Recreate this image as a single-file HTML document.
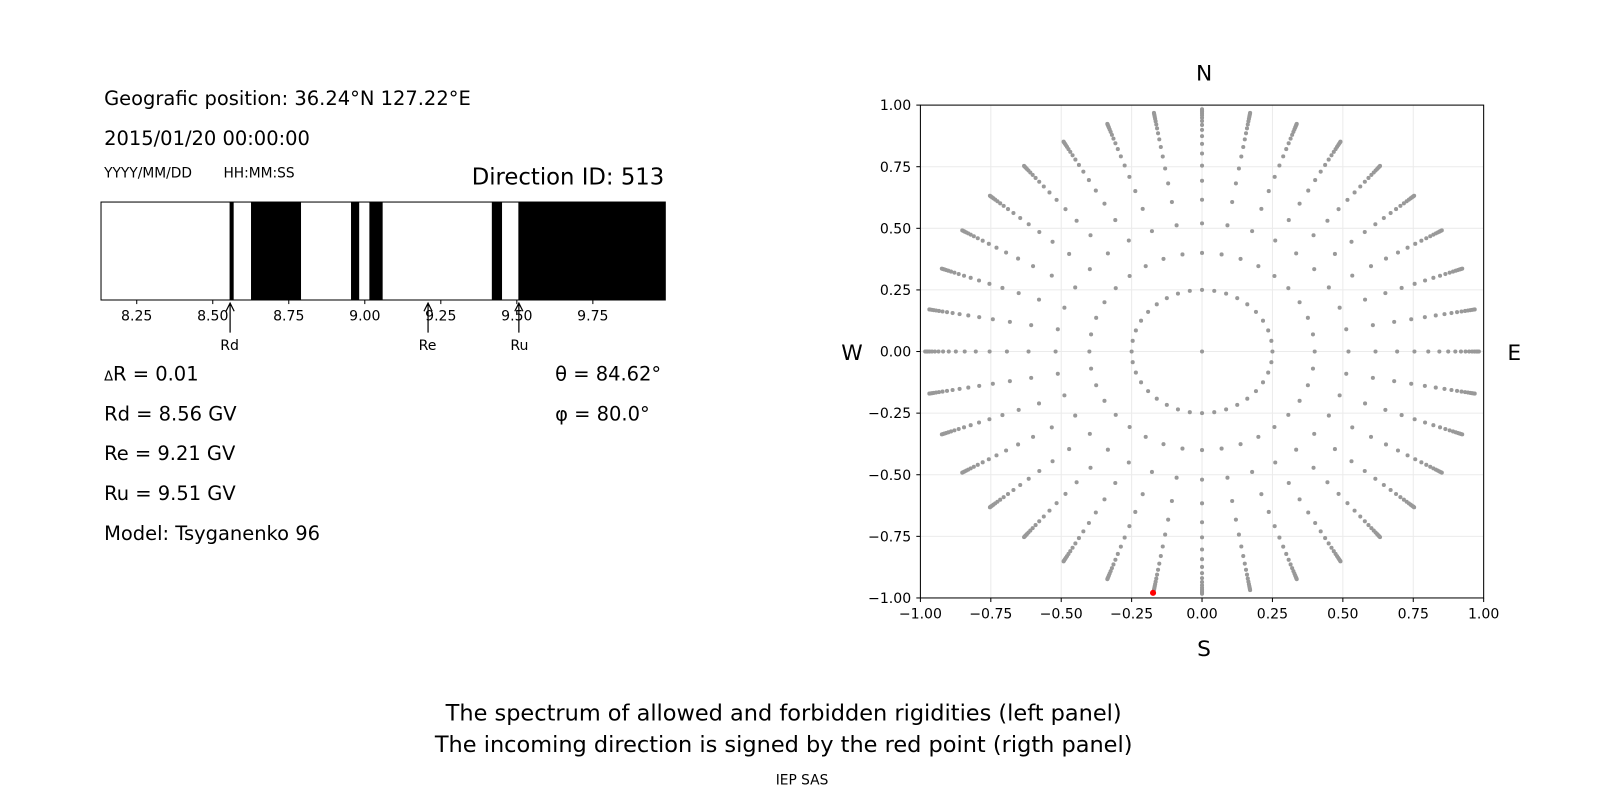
<!DOCTYPE html>
<html><head><meta charset="utf-8"><style>
body{margin:0;background:#fff}
svg{display:block;font-family:"DejaVu Sans","Liberation Sans",sans-serif}
</style></head><body>
<svg width="1600" height="800" viewBox="0 0 1600 800" xmlns="http://www.w3.org/2000/svg">
<rect width="1600" height="800" fill="#fff"/>
<g transform="scale(1.0204)">
<text x="102" y="103" font-size="19.1">Geografic position: 36.24°N 127.22°E</text>
<text x="102" y="142" font-size="19.1">2015/01/20 00:00:00</text>
<text x="102" y="174" font-size="13.5">YYYY/MM/DD</text>
<text x="219" y="174" font-size="13.5">HH:MM:SS</text>
<text x="651" y="181" font-size="22.3" text-anchor="end">Direction ID: 513</text>
<g fill="#000">
<rect x="225" y="198" width="4" height="96"/>
<rect x="246" y="198" width="49" height="96"/>
<rect x="344" y="198" width="8" height="96"/>
<rect x="362" y="198" width="13" height="96"/>
<rect x="482" y="198" width="10" height="96"/>
<rect x="508" y="198" width="144" height="96"/>
</g>
<rect x="99" y="198" width="553" height="96" fill="none" stroke="#000" stroke-width="1"/>
<g font-size="13.8" text-anchor="middle" id="lt"></g>
<g stroke="#000" stroke-width="1.2" fill="none">
<path d="M225.5 326V298M221.5 305L225.5 297L229.5 305"/>
<path d="M419.5 326V298M415.5 305L419.5 297L423.5 305"/>
<path d="M508.5 326V298M504.5 305L508.5 297L512.5 305"/>
</g>
<g font-size="13.8" text-anchor="middle">
<text x="225" y="343">Rd</text><text x="419" y="343">Re</text><text x="509" y="343">Ru</text>
</g>
<g font-size="19.1">
<text x="102" y="373"><tspan font-size="12.8">Δ</tspan>R = 0.01</text>
<text x="102" y="412">Rd = 8.56 GV</text>
<text x="102" y="451">Re = 9.21 GV</text>
<text x="102" y="490">Ru = 9.51 GV</text>
<text x="102" y="529">Model: Tsyganenko 96</text>
<text x="544" y="373">θ = 84.62°</text>
<text x="544" y="412">φ = 80.0°</text>
</g>
<g id="grid" stroke="#ebebeb" stroke-width="1"></g>
<g id="pts" fill="#999"></g>
<circle cx="1130" cy="581" r="3" fill="#f00"/>
<rect x="902" y="103" width="552" height="483" fill="none" stroke="#000" stroke-width="1"/>
<g id="ticks" font-size="13.8"></g>
<g font-size="21.3" text-anchor="middle">
<text x="1180" y="79">N</text><text x="1180" y="643">S</text>
<text x="835" y="353">W</text><text x="1484" y="353">E</text>
</g>
<g font-size="22" text-anchor="middle">
<text x="768" y="706">The spectrum of allowed and forbidden rigidities (left panel)</text>
<text x="768" y="737">The incoming direction is signed by the red point (rigth panel)</text>
</g>
<text x="786" y="769" font-size="13.5" text-anchor="middle">IEP SAS</text>
</g>
</svg>
<script>
var NS="http://www.w3.org/2000/svg";
function el(p,t,a,txt){var e=document.createElementNS(NS,t);for(var k in a)e.setAttribute(k,a[k]);if(txt!=null)e.textContent=txt;document.getElementById(p).appendChild(e);}
var lv=[8.25,8.5,8.75,9,9.25,9.5,9.75];
lv.forEach(function(v){var x=134+(v-8.25)*298;el("lt","line",{x1:x,x2:x,y1:294,y2:298,stroke:"#000"});el("lt","text",{x:x,y:314},v.toFixed(2));});
function X(v){return 1178+v*276;}function Y(v){return 344.5-v*241.5;}
for(var i=0;i<9;i++){var v=-1+i*0.25;
 el("grid","line",{x1:X(v),x2:X(v),y1:103,y2:586});
 el("grid","line",{x1:902,x2:1454,y1:Y(v),y2:Y(v)});
 el("ticks","line",{x1:X(v),x2:X(v),y1:586,y2:590,stroke:"#000"});
 el("ticks","text",{x:X(v),y:606,"text-anchor":"middle"},v.toFixed(2).replace("-","−"));
 el("ticks","line",{x1:898,x2:902,y1:Y(v),y2:Y(v),stroke:"#000"});
 el("ticks","text",{x:893,y:Y(v)+5,"text-anchor":"end"},v.toFixed(2).replace("-","−"));}
el("pts","circle",{cx:X(0),cy:Y(0),r:2});
for(var a=0;a<36;a++){var t=a*10*Math.PI/180;
 for(var n=0;n<=17;n++){var r=1-0.75*Math.pow(0.8,n);
  el("pts","circle",{cx:X(r*Math.cos(t)),cy:Y(r*Math.sin(t)),r:2});}}
</script>
</body></html>
